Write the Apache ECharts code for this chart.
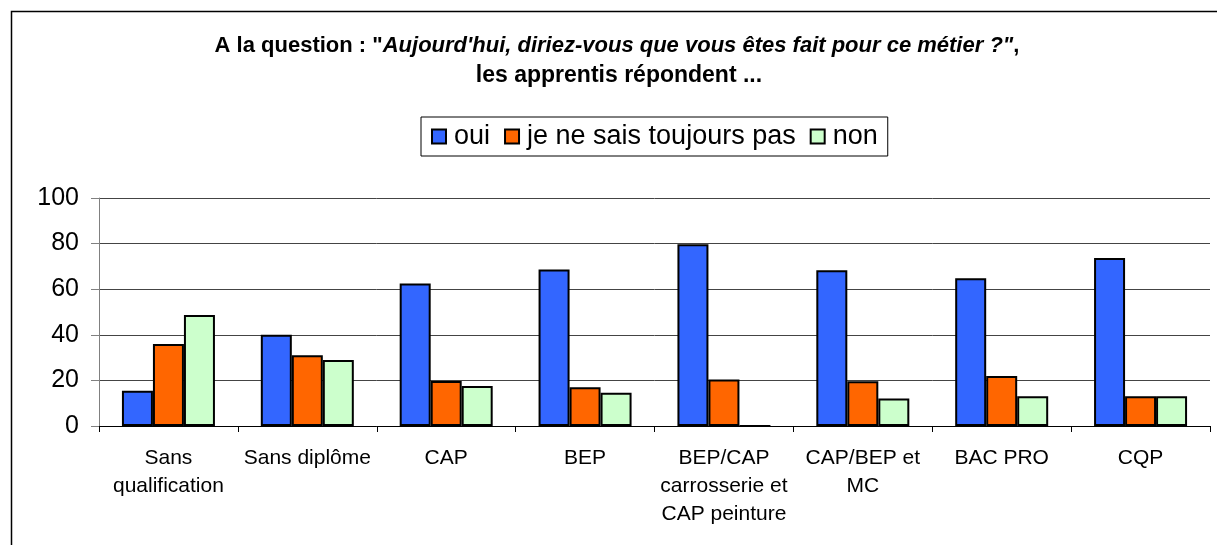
<!DOCTYPE html>
<html>
<head>
<meta charset="utf-8">
<script src="https://cdn.jsdelivr.net/npm/echarts@6/dist/echarts.min.js"></script>
<style>html,body{margin:0;padding:0;background:#fff}#c{width:1217px;height:545px}</style>
</head>
<body>
<div id="c"></div>
<script>
const categories = ['Sans\nqualification', 'Sans diplôme', 'CAP', 'BEP', 'BEP/CAP\ncarrosserie et\nCAP peinture', 'CAP/BEP et\nMC', 'BAC PRO', 'CQP'];
const seriesNames = ['oui', 'je ne sais toujours pas', 'non'];
const oui = [15.5, 40, 62.5, 68.6, 79.7, 68.3, 64.8, 73.7];
const nsp = [36, 31, 19.7, 17, 20.4, 19.6, 21.9, 13];
const non = [48.7, 28.9, 17.5, 14.6, 0, 12.1, 13, 13];
const yTicks = [0, 20, 40, 60, 80, 100];

const FONT = 'Arial, "Liberation Sans", sans-serif';
const colors = ['#3366FF', '#FF6600', '#CCFFCC'];
const values = [oui, nsp, non];

const chart = echarts.init(document.getElementById('c'), null, {renderer: 'canvas'});
chart.setOption({
  animation: false,
  backgroundColor: '#fff',
  textStyle: {fontFamily: FONT, color: '#000'},
  graphic: [
    {type: 'rect', shape: {x: 11.5, y: 11.5, width: 1220, height: 560}, style: {fill: 'none', stroke: '#000', lineWidth: 1.5}, silent: true},
    {type: 'text', x: 617, y: 46, style: {
      text: '{b|A la question : "}{bi|Aujourd\'hui, diriez-vous que vous êtes fait pour ce métier ?"}{b|,}',
      align: 'center', verticalAlign: 'middle',
      rich: {
        b: {fontFamily: FONT, fontWeight: 'bold', fontSize: 22, fill: '#000'},
        bi: {fontFamily: FONT, fontWeight: 'bold', fontStyle: 'italic', fontSize: 22, fill: '#000'}
      }
    }},
    {type: 'text', x: 619, y: 76, style: {
      text: 'les apprentis répondent ...', align: 'center', verticalAlign: 'middle',
      fontFamily: FONT, fontWeight: 'bold', fontSize: 23, fill: '#000'
    }}
  ],
  legend: {
    left: 421, top: 117,
    padding: [6, 10, 6, 10],
    borderColor: '#000', borderWidth: 1,
    itemWidth: 14, itemHeight: 14, itemGap: 14,
    icon: 'rect',
    textStyle: {fontFamily: FONT, fontSize: 27, color: '#000', padding: [0, 0, 0, 3]},
    data: seriesNames
  },
  grid: {left: 99, right: 7, top: 198, bottom: 119, containLabel: false},
  xAxis: {
    type: 'category', data: categories,
    axisLine: {show: true, lineStyle: {color: '#000', width: 1}},
    axisTick: {show: true, length: 6, lineStyle: {color: '#000'}},
    axisLabel: {interval: 0, fontFamily: FONT, fontSize: 21, lineHeight: 28, color: '#000', margin: 18}
  },
  yAxis: {
    type: 'value', min: yTicks[0], max: yTicks[yTicks.length - 1], interval: 20,
    axisLine: {show: true, lineStyle: {color: '#808080', width: 1}},
    axisTick: {show: true, length: 8, lineStyle: {color: '#808080'}},
    axisLabel: {fontFamily: FONT, fontSize: 25, color: '#000', margin: 20},
    splitLine: {show: true, lineStyle: {color: '#444', width: 1}}
  },
  series: seriesNames.map((n, i) => ({
    name: n, type: 'bar', data: values[i],
    barWidth: 31, barGap: '0%',
    itemStyle: {color: colors[i], borderColor: '#000', borderWidth: 2}
  }))
});
</script>
</body>
</html>
